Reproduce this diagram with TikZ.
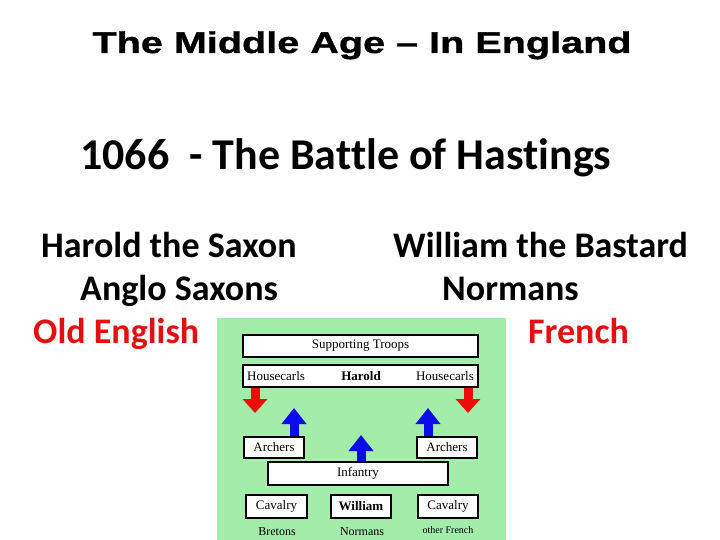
\documentclass[tikz,border=0pt]{standalone}
\usepackage{fontspec}
\setmainfont{Carlito}[Ligatures=NoCommon]
\newfontfamily\titlefont[FakeStretch=1.32, FakeBold=1.2]{Liberation Sans}
\newfontfamily\boxfont{Liberation Serif}
\usetikzlibrary{arrows.meta, positioning}
\definecolor{panelGreen}{RGB}{163,236,170}
\definecolor{textRed}{RGB}{228,16,16}
\definecolor{pushRed}{RGB}{240,10,10}
\definecolor{pushBlue}{RGB}{10,10,235}
\tikzset{
    headline/.style={anchor=base west, inner sep=0pt, font=\bfseries\fontsize{36}{43}\selectfont},
    troopBox/.style={draw, fill=white, line width=1.8pt, inner sep=0pt, font=\boxfont\fontsize{13}{15}\selectfont},
    troopText/.style={inner sep=0pt, font=\boxfont\fontsize{13}{15}\selectfont},
    troopNote/.style={inner sep=0pt, font=\boxfont\fontsize{12}{14}\selectfont},
    redPush/.style={pushRed, line width=9pt, -{Triangle[length=14pt, width=24pt]}},
    bluePush/.style={pushBlue, line width=9pt, -{Triangle[length=16pt, width=24pt]}},
}
\newcommand{\drawPush}[3][redPush]{
    \draw[#1] (#2) -- (#3);
}
\begin{document}
\begin{tikzpicture}[x=1pt, y=-1pt]
    \useasboundingbox (0,0) rectangle (720,540);

    \node[anchor=base, inner sep=0pt, font=\titlefont\bfseries\fontsize{30}{36}\selectfont] (title) at (362,53) {The Middle Age – In England};
    \node[headline, font=\bfseries\fontsize{44}{53}\selectfont] (battle) at (80,170) {1066~~- The Battle of Hastings};

    \node[headline] (harold) at (41,258) {Harold the Saxon};
    \node[headline] (saxons) at (80,300) {Anglo Saxons};
    \node[headline, textRed] (oldEnglish) at (33,343) {Old English};
    \node[headline] (william) at (393,258) {William the Bastard};
    \node[headline] (normans) at (442,300) {Normans};
    \node[headline, textRed] (french) at (528,343) {French};

    % battle plan
    \fill[panelGreen] (217,318) rectangle (506,540);

    \node[troopBox, minimum width=235pt, minimum height=22pt] (troops) at (360.5,346) {Supporting Troops};
    \node[troopBox, minimum width=235pt, minimum height=22pt] (hcRow) at (360.5,376) {};
    \node[troopText, anchor=west] (hcL) at (247,376) {Housecarls};
    \node[troopText, font=\boxfont\bfseries\fontsize{13}{15}\selectfont] (haroldBox) at (361,376) {Harold};
    \node[troopText, anchor=east] (hcR) at (474,376) {Housecarls};

    \node[troopBox, minimum width=60pt, minimum height=21pt] (archL) at (274,447.5) {Archers};
    \node[troopBox, minimum width=60pt, minimum height=21pt] (archR) at (447,447.5) {Archers};
    \node[troopBox, minimum width=180pt, minimum height=23pt] (infantry) at (358,473.5) {Infantry};

    \node[troopBox, minimum width=61pt, minimum height=23pt] (cavL) at (276.5,506.5) {Cavalry};
    \node[troopBox, minimum width=60pt, minimum height=23pt, font=\boxfont\bfseries\fontsize{13}{15}\selectfont] (williamBox) at (361,506.5) {William};
    \node[troopBox, minimum width=60pt, minimum height=23pt] (cavR) at (448,506.5) {Cavalry};

    \node[troopNote] (bretons) at (277,532) {Bretons};
    \node[troopNote] (normansBox) at (362,532) {Normans};
    \node[troopNote, font=\boxfont\fontsize{10}{12}\selectfont] (otherFrench) at (448,530) {other French};

    \coordinate (redL) at (255,413);
    \coordinate (redR) at (468,413);
    \coordinate (blueL) at (294,408);
    \coordinate (blueM) at (361,435);
    \coordinate (blueR) at (428,408);

    \drawPush{hcRow.south -| redL}{redL}
    \drawPush{hcRow.south -| redR}{redR}
    \drawPush[bluePush]{archL.north -| blueL}{blueL}
    \drawPush[bluePush]{infantry.north -| blueM}{blueM}
    \drawPush[bluePush]{archR.north -| blueR}{blueR}

\end{tikzpicture}
\end{document}
